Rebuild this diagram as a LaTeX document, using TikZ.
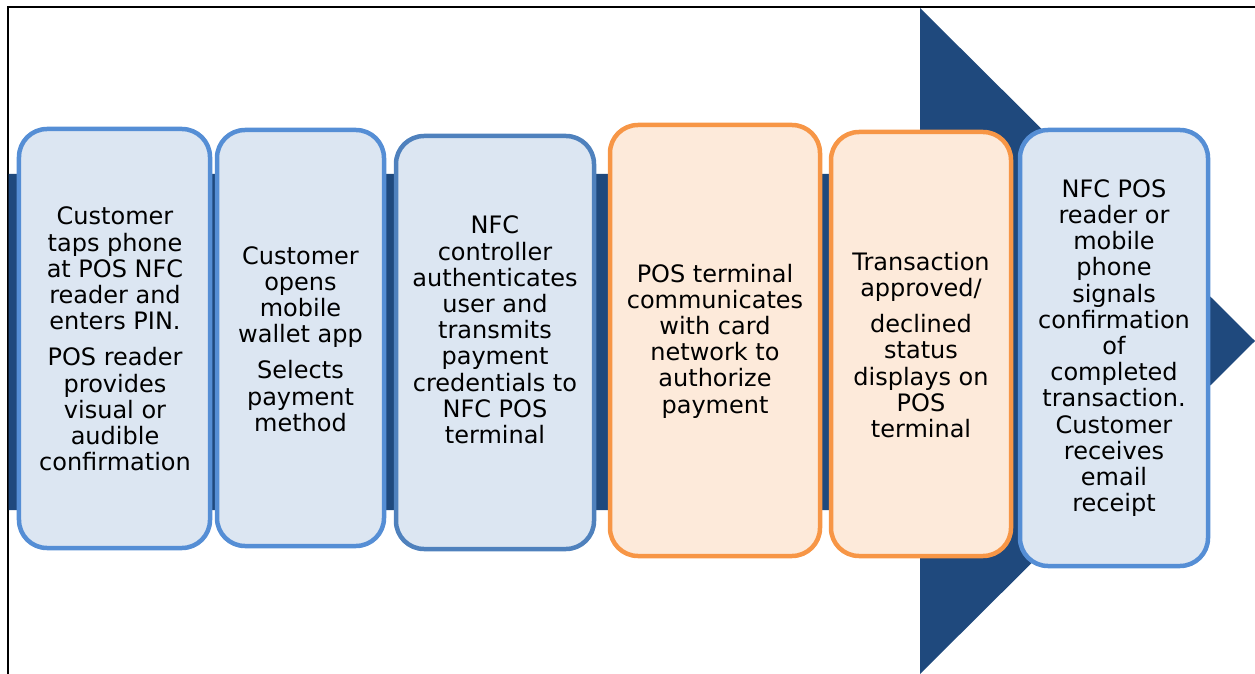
\documentclass[tikz,border=0pt]{standalone}
\usepackage{fontspec}
\setmainfont{DejaVu Sans}
\definecolor{barblue}{HTML}{1F497D}
\definecolor{lightfill}{HTML}{DCE6F2}
\definecolor{blueline}{HTML}{558ED5}
\definecolor{blueline2}{HTML}{4F81BD}
\definecolor{orangefill}{HTML}{FDEADA}
\definecolor{orangeline}{HTML}{F79646}
\tikzset{
  stepbox/.style={draw=blueline, fill=lightfill, line width=4.5bp, rounded corners=28bp,
    inner sep=0pt, outer sep=0pt, rectangle},
  orangebox/.style={stepbox, draw=orangeline, fill=orangefill},
  steptext/.style={align=center, inner sep=0pt, text=black,
    font=\fontsize{24bp}{26.2bp}\selectfont}
}
\begin{document}
\begin{tikzpicture}[x=1bp,y=-1bp]
\useasboundingbox (0,0) rectangle (1255,674);
\begin{scope}
\clip (0,0) rectangle (1255,674);
% frame
\draw[line width=2bp, black] (7.5,680) -- (7.5,7) -- (1260,7);
% big arrow
\fill[barblue] (8.5,174) -- (920,174) -- (920,8) -- (1255,341) -- (920,674) -- (920,510) -- (8.5,510) -- cycle;
\end{scope}
% boxes
\node[stepbox, minimum width=191bp, minimum height=419bp] (b1) at (114.5,338.5) {};
\node[stepbox, minimum width=167bp, minimum height=416bp] (b2) at (300.5,338) {};
\node[stepbox, draw=blueline2, minimum width=198bp, minimum height=413bp] (b3) at (495,342.5) {};
\node[orangebox, minimum width=210bp, minimum height=431bp] (b4) at (715,340.5) {};
\node[orangebox, minimum width=180bp, minimum height=424bp] (b5) at (921,344) {};
\node[stepbox, minimum width=188bp, minimum height=436bp] (b6) at (1114,348) {};
% texts
\node[steptext] (t1) at (115,339) {Customer\\taps phone\\at POS NFC\\reader and\\enters PIN.\\[10bp]POS reader\\provides\\visual or\\audible\\confirmation};
\node[steptext] (t2) at (300.5,339) {Customer\\opens\\mobile\\wallet app\\[10bp]Selects\\payment\\method};
\node[steptext] (t3) at (495,330) {NFC\\controller\\authenticates\\user and\\transmits\\payment\\credentials to\\NFC POS\\terminal};
\node[steptext] (t4) at (715,341) {POS terminal\\communicates\\with card\\network to\\authorize\\payment};
\node[steptext] (t5) at (921,345) {Transaction\\approved/\\[10bp]declined\\status\\displays on\\POS\\terminal};
\node[steptext] (t6) at (1114,348) {NFC POS\\reader or\\mobile\\phone\\signals\\confirmation\\of\\completed\\transaction.\\Customer\\receives\\email\\receipt};
\end{tikzpicture}
\end{document}
